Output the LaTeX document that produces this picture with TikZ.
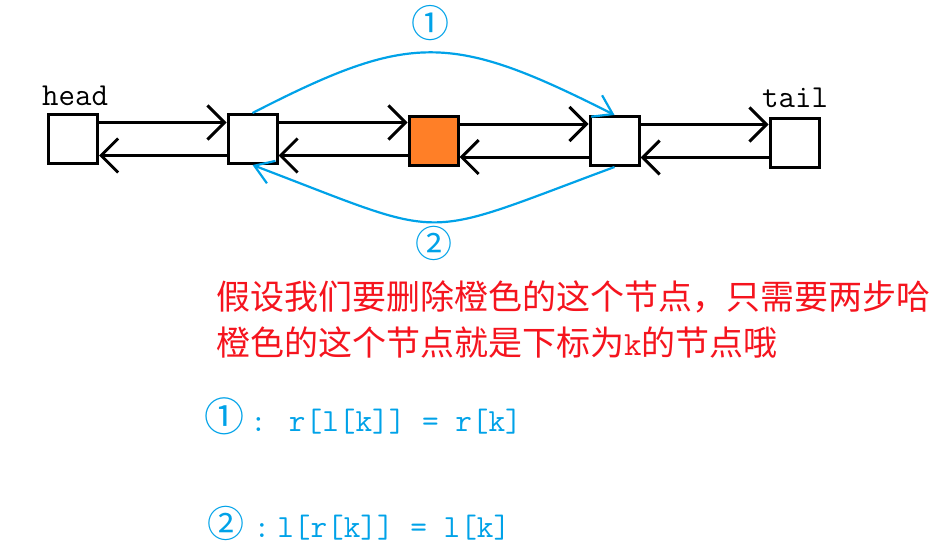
\documentclass[tikz,border=0pt]{standalone}
\usepackage{fontspec}
\newfontfamily\cjk{Noto Sans CJK SC}
\usetikzlibrary{arrows.meta}
\definecolor{bluec}{RGB}{0,162,232}
\definecolor{orangec}{RGB}{255,127,39}
\definecolor{redc}{RGB}{245,20,30}
\tikzset{
  cell/.style={draw=black, line width=3pt, fill=white, minimum size=49pt, inner sep=0pt},
  link/.style={line width=3pt, -{Straight Barb[length=17pt,width=34pt]}},
  bluearc/.style={draw=bluec, line width=2.2pt, -{Straight Barb[length=18pt,width=24pt]}},
  circnum/.style={text=bluec, inner sep=0pt, font=\cjk\fontsize{38}{40}\selectfont},
  lbl/.style={inner sep=0pt, anchor=base west, font=\ttfamily\fontsize{32}{38}\selectfont},
  redtxt/.style={inner sep=0pt, anchor=west, text=redc, font=\cjk\fontsize{34}{40}\selectfont},
  formula/.style={inner sep=0pt, anchor=west, text=bluec, font=\cjk\fontsize{32}{38}\selectfont}
}
\newcommand\monotext[1]{{\ttfamily\fontsize{32.3}{38}\selectfont #1}}
\begin{document}
\begin{tikzpicture}[x=1pt, y=-1pt]
\useasboundingbox (0,0) rectangle (942,551);
% cells
\node[cell] (h) at (73,139) {};
\node[cell] (b2) at (252.5,139) {};
\node[cell, fill=orangec] (o) at (433.5,140.5) {};
\node[cell] (b4) at (614.5,141) {};
\node[cell] (t) at (794.5,142.5) {};
% labels
\node[lbl] (hl) at (42,105) {head};
\node[lbl] (tl) at (762,107) {tail};
% links
\foreach \a/\b in {h/b2, b2/o, o/b4, b4/t}{
  \draw[link] ([yshift=16.5]\a.east) -- ([yshift=16.5]\a.east -| \b.west);
  \draw[link] ([yshift=-16.5]\a.east -| \b.west) -- ([yshift=-16.5]\a.east);
}
% blue arcs
\draw[bluearc] (b2.north) .. controls +(158,-81) and +(-164,-83) .. (b4.north);
\draw[bluearc] (b4.south) .. controls +(-200,74) and +(200,76) .. (b2.south);
\node[circnum] (n1) at (430,23) {①};
\node[circnum, font=\cjk\fontsize{37}{40}\selectfont] (n2) at (434,243) {②};
% red text
\node[redtxt] (r1) at (216,297) {假设我们要删除橙色的这个节点，只需要两步哈};
\node[redtxt] (r2) at (216,342) {橙色的这个节点就是下标为{\ttfamily k}的节点哦};
% formulas
\node[formula] (f1) at (204,416) {{\fontsize{40}{40}\selectfont ①}\hspace{6pt}\monotext{: r[l[k]] = r[k]}};
\node[formula] (f2) at (207.5,523) {{\fontsize{37}{40}\selectfont ②}\hspace{9pt}\monotext{:\hspace{7pt}l[r[k]] = l[k]}};
\end{tikzpicture}
\end{document}
